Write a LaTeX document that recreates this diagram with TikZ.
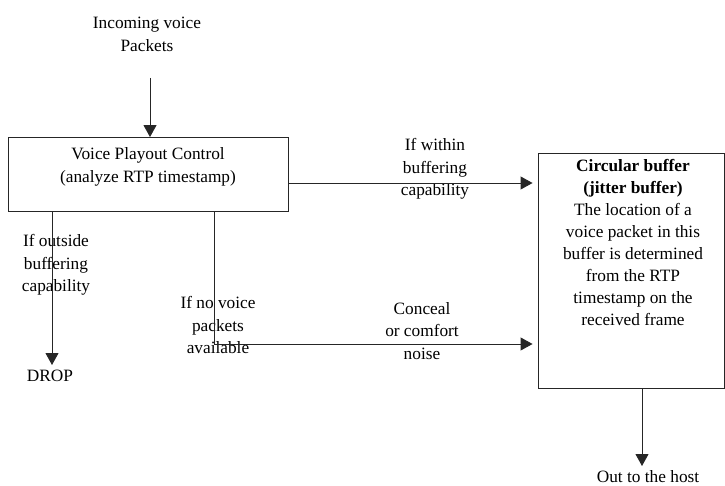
\documentclass[tikz,border=0pt]{standalone}
\usepackage{fontspec}
\setmainfont{Liberation Serif}
\usetikzlibrary{arrows.meta}
\begin{document}
\begin{tikzpicture}[x=1pt,y=-1pt,
  txt/.style={align=center,inner sep=0pt,font=\fontsize{17.3}{22.5}\selectfont},
  boxed/.style={draw=black!85,line width=0.9pt,inner sep=0pt},
  arr/.style={draw=black!85,line width=0.9pt,-{Triangle[length=12pt,width=13pt]}},
  ln/.style={draw=black!85,line width=0.9pt}]
\useasboundingbox (0,0) rectangle (725,486);
% boxes
\node[boxed,minimum width=280pt,minimum height=74pt] (lbox) at (148,174.5) {};
\node[txt] (ltext) at (148,167) {Voice Playout Control\\(analyze RTP timestamp)};
\node[boxed,minimum width=186pt,minimum height=235pt] (rbox) at (631,270.5) {};
\node[txt,anchor=north,font=\fontsize{17.3}{22}\selectfont] (rtext) at (633,159) {\textbf{Circular buffer}\\\textbf{(jitter buffer)}\\The location of a\\voice packet in this\\buffer is determined\\from the RTP\\timestamp on the\\received frame};
% labels
\node[txt] (inc) at (147,34.5) {Incoming voice\\Packets};
\node[txt] (within) at (435,169) {If within\\buffering\\capability};
\node[txt] (outside) at (56,265) {If outside\\buffering\\capability};
\node[txt] (novoice) at (218,325) {If no voice\\packets\\available};
\node[txt] (conceal) at (422,331) {Conceal\\or comfort\\noise};
\node[txt] (drop) at (50,376) {DROP};
\node[txt,anchor=base] (out) at (648,482) {Out to the host};
% connectors
\coordinate (c1) at (150,78);
\draw[arr] (c1) -- (c1 |- lbox.north);
\coordinate (c2) at (288,183);
\draw[arr,shorten >=5pt] (c2) -- (c2 -| rbox.west);
\coordinate (c3) at (214,212);
\coordinate (c4) at (214,344);
\draw[arr,shorten >=5pt] (c3) -- (c4) -- (c4 -| rbox.west);
\coordinate (c5) at (52,212);
\coordinate (c6) at (52,365);
\draw[arr] (c5) -- (c6);
\coordinate (c7) at (642,388);
\coordinate (c8) at (642,466);
\draw[arr] (c7) -- (c8);
\end{tikzpicture}
\end{document}
